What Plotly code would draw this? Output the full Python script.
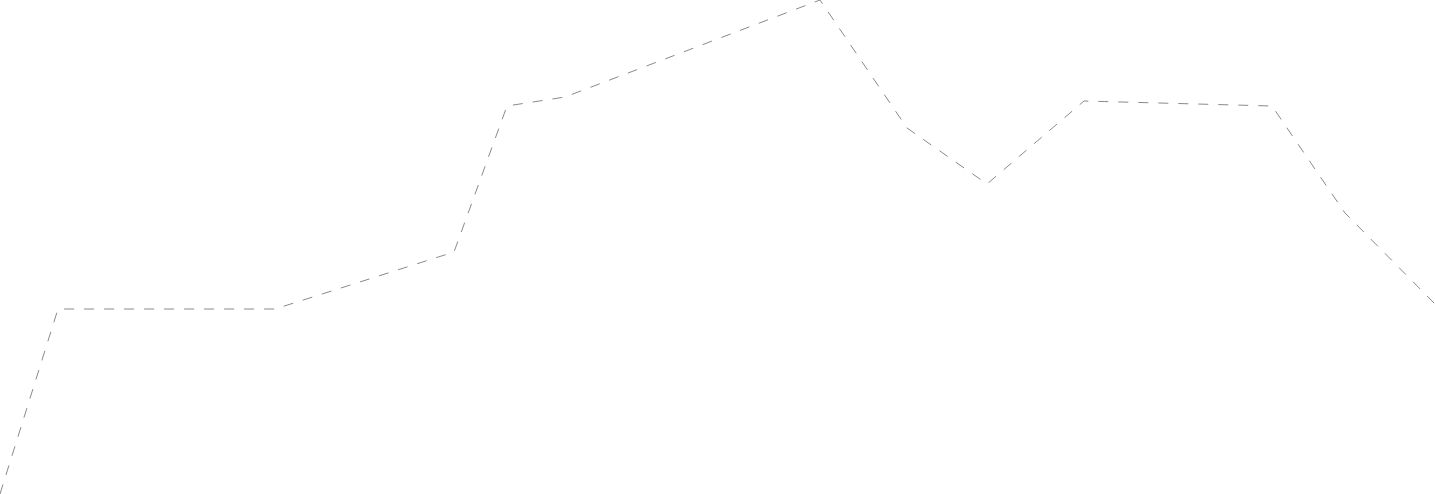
import plotly.graph_objects as go

# data
x_pos = [0, 58, 275, 454, 507, 565, 820, 907, 987, 1084, 1272, 1345, 1435]
values = [0, 185, 185, 242, 388, 397, 494, 366, 310, 393, 388, 281, 190]

fig = go.Figure(
    go.Scatter(
        x=x_pos,
        y=values,
        mode="lines",
        line=dict(color="#8a8a8a", width=1, dash="10px,10px"),
        hoverinfo="skip",
        cliponaxis=False,
    )
)

fig.update_layout(
    width=1435,
    height=494,
    margin=dict(l=0, r=0, t=0, b=0),
    paper_bgcolor="white",
    plot_bgcolor="white",
    showlegend=False,
    xaxis=dict(range=[0, 1435], visible=False, fixedrange=True),
    yaxis=dict(range=[0, 494], visible=False, fixedrange=True),
)

fig.write_html(
    "out.html",
    config={"displayModeBar": False, "staticPlot": True},
    post_script="document.body.style.margin='0';document.body.style.overflow='hidden';",
)
